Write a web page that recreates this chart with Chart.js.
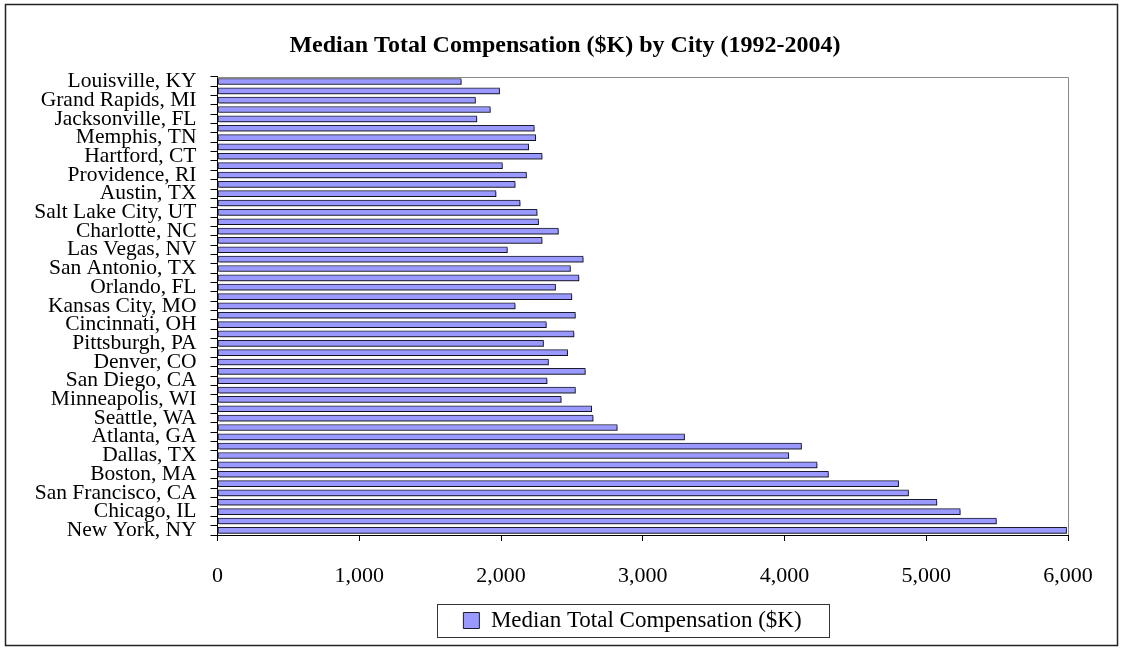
<!DOCTYPE html>
<html>
<head>
<meta charset="utf-8">
<script src="https://cdn.jsdelivr.net/npm/chart.js@4"></script>
<style>
html,body{margin:0;padding:0;background:#fff;}
canvas{display:block;}
</style>
</head>
<body>
<canvas id="c" width="1124" height="651"></canvas>
<script>
// Categories (top to bottom); only every other label is shown in the source chart
const cities = [
  "Louisville, KY", "", "Grand Rapids, MI", "", "Jacksonville, FL", "",
  "Memphis, TN", "", "Hartford, CT", "", "Providence, RI", "",
  "Austin, TX", "", "Salt Lake City, UT", "", "Charlotte, NC", "",
  "Las Vegas, NV", "", "San Antonio, TX", "", "Orlando, FL", "",
  "Kansas City, MO", "", "Cincinnati, OH", "", "Pittsburgh, PA", "",
  "Denver, CO", "", "San Diego, CA", "", "Minneapolis, WI", "",
  "Seattle, WA", "", "Atlanta, GA", "", "Dallas, TX", "",
  "Boston, MA", "", "San Francisco, CA", "", "Chicago, IL", "",
  "New York, NY"
];
// Median Total Compensation ($K)
const compensation = [
  1720, 1990, 1820, 1925, 1830, 2235,
  2245, 2195, 2290, 2010, 2180, 2100,
  1965, 2135, 2255, 2265, 2405, 2290,
  2045, 2580, 2490, 2550, 2385, 2500,
  2100, 2525, 2320, 2515, 2300, 2470,
  2335, 2595, 2325, 2525, 2425, 2640,
  2650, 2820, 3295, 4120, 4030, 4230,
  4310, 4805, 4875, 5075, 5240, 5495,
  5990
];
const xMin = 0, xMax = 6000, xStep = 1000;
const seriesName = "Median Total Compensation ($K)";
const chartTitle = "Median Total Compensation ($K) by City (1992-2004)";

const SERIF = "'Liberation Serif', 'Times New Roman', serif";

const decor = {
  id: 'decor',
  beforeDraw(chart) {
    const ctx = chart.ctx;
    ctx.save();
    ctx.fillStyle = '#fff';
    ctx.fillRect(0, 0, chart.width, chart.height);
    ctx.restore();
  },
  afterLayout(chart) {
    const lg = chart.legend;
    if (lg) { lg.left += 94.5; lg.right += 94.5; }
    const tb = chart.titleBlock;
    if (tb) { tb.left += 27; tb.right += 27; }
  },
  beforeDatasetsDraw(chart) {
    const ctx = chart.ctx, a = chart.chartArea;
    ctx.save();
    ctx.strokeStyle = '#8a8a8a';
    ctx.lineWidth = 1;
    ctx.beginPath();
    ctx.moveTo(a.left, Math.round(a.top) + 0.5);
    ctx.lineTo(Math.round(a.right) + 0.5, Math.round(a.top) + 0.5);
    ctx.lineTo(Math.round(a.right) + 0.5, a.bottom);
    ctx.stroke();
    ctx.restore();
    ctx.save();
    ctx.shadowColor = 'rgba(0,0,0,0.35)';
    ctx.shadowOffsetX = 1.5;
    ctx.shadowOffsetY = 1.5;
    ctx.shadowBlur = 0;
  },
  afterDatasetsDraw(chart) {
    chart.ctx.restore();
  },
  afterDraw(chart) {
    const ctx = chart.ctx;
    ctx.save();
    ctx.strokeStyle = '#222';
    ctx.lineWidth = 1.5;
    ctx.strokeRect(5.5, 4.5, 1112, 641);
    const lg = chart.legend;
    if (lg && lg.legendHitBoxes && lg.legendHitBoxes.length) {
      const hb = lg.legendHitBoxes[0];
      const cx = hb.left + hb.width / 2;
      const cy = hb.top + hb.height / 2;
      ctx.strokeStyle = '#333';
      ctx.lineWidth = 1;
      ctx.strokeRect(Math.round(cx - 196) + 0.5, Math.round(cy - 16.5) + 0.5, 392, 33);
    }
    ctx.restore();
  }
};

new Chart(document.getElementById('c'), {
  type: 'bar',
  data: {
    labels: cities,
    datasets: [{
      label: seriesName,
      data: compensation,
      backgroundColor: '#9999FF',
      borderColor: '#1c1c30',
      borderWidth: 1,
      borderSkipped: false,
      barThickness: 6
    }]
  },
  options: {
    indexAxis: 'y',
    responsive: false,
    animation: false,
    devicePixelRatio: 1,
    layout: { padding: { left: 8, right: 56, top: 0, bottom: 9 } },
    plugins: {
      title: {
        display: true,
        text: chartTitle,
        color: '#000',
        font: { family: SERIF, size: 24, weight: 'bold' },
        padding: { top: 31, bottom: 17 }
      },
      legend: {
        display: true,
        position: 'bottom',
        labels: {
          color: '#000',
          font: { family: SERIF, size: 23 },
          boxWidth: 16,
          boxHeight: 16,
          padding: 10
        }
      },
      tooltip: { enabled: false }
    },
    scales: {
      x: {
        type: 'linear',
        min: xMin,
        max: xMax,
        ticks: {
          stepSize: xStep,
          color: '#000',
          font: { family: SERIF, size: 22 },
          padding: 22,
          maxRotation: 0,
          callback: v => Number(v).toLocaleString('en-US')
        },
        grid: { drawOnChartArea: false, drawTicks: true, tickLength: 6, color: '#000' },
        border: { display: true, color: '#000', width: 1 },
        afterFit(scale) { scale.height = 64; }
      },
      y: {
        type: 'category',
        ticks: {
          autoSkip: false,
          color: '#000',
          font: { family: SERIF, size: 21.5 },
          padding: 14
        },
        grid: { drawOnChartArea: false, drawTicks: true, tickLength: 7, color: '#000', offset: true },
        border: { display: true, color: '#000', width: 1 },
        afterFit(scale) { scale.width = 209.5; }
      }
    }
  },
  plugins: [decor]
});
</script>
</body>
</html>
